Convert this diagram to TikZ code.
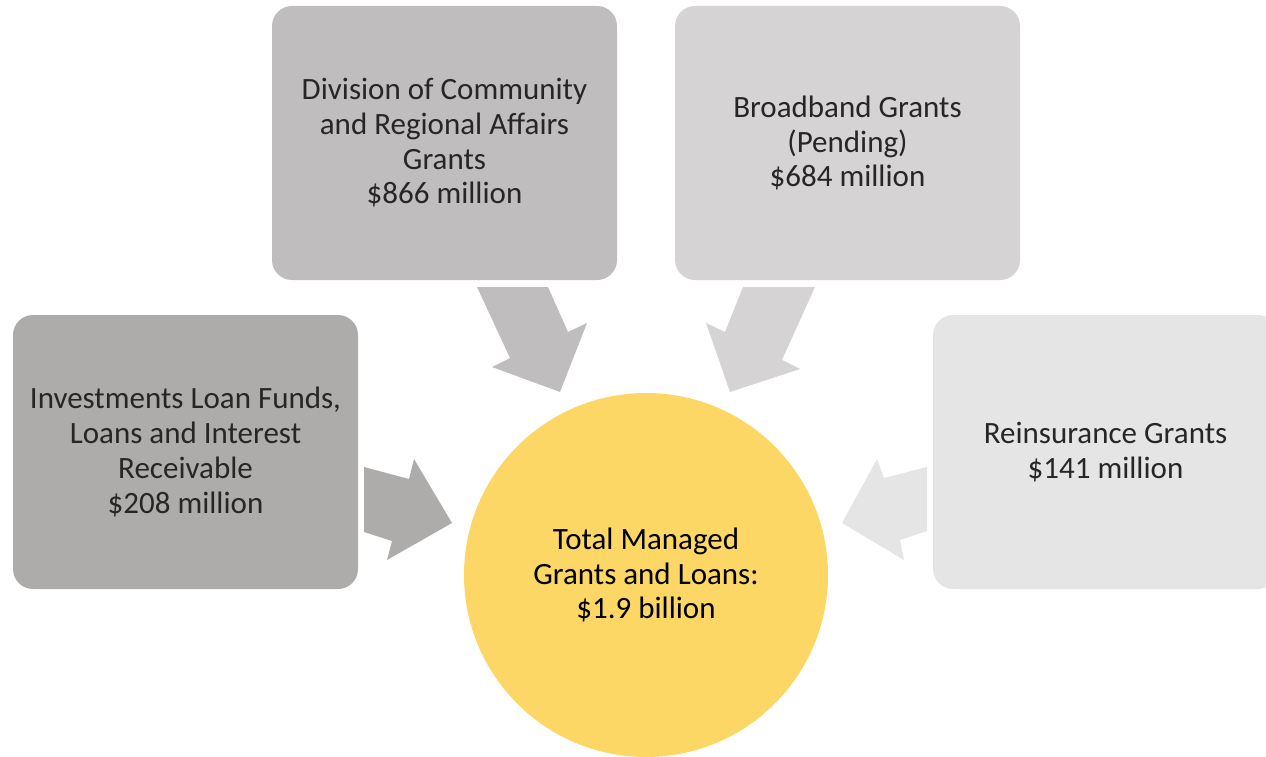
\documentclass[tikz,border=0pt]{standalone}
\usepackage{fontspec}
\setmainfont{Carlito}
\definecolor{boxA}{HTML}{BFBDBE}
\definecolor{boxB}{HTML}{D5D3D4}
\definecolor{boxC}{HTML}{ADACAB}
\definecolor{boxD}{HTML}{E5E5E5}
\definecolor{gold}{HTML}{FCD766}
\definecolor{txt}{HTML}{262626}
\begin{document}
\begin{tikzpicture}[x=1pt,y=-1pt,
  card/.style={rounded corners=20pt, minimum width=345pt, minimum height=274pt, inner sep=0pt, draw=none},
  lbl/.style={align=center, text=txt, font=\fontsize{31}{34.7}\selectfont},
  hub/.style={circle, minimum size=364pt, inner sep=0pt, fill=gold}]
\useasboundingbox (0,0) rectangle (1266,757);
\clip (0,0) rectangle (1266,757);
% boxes
\node[card, fill=boxA] (dcra) at (444.5,143) {};
\node[card, fill=boxB] (bb) at (847.5,143) {};
\node[card, fill=boxC] (inv) at (185.5,452) {};
\node[card, fill=boxD] (re) at (1105.5,452) {};
\node[lbl] at (dcra.center) {Division of Community\\and Regional Affairs\\Grants\\\$866 million};
\node[lbl] at (bb.center) {Broadband Grants\\(Pending)\\\$684 million};
\node[lbl] at (inv.center) {Investments Loan Funds,\\Loans and Interest\\Receivable\\\$208 million};
\node[lbl] at (re.center) {Reinsurance Grants\\\$141 million};
% hub
\node[hub] (tot) at (646,575) {};
\node[lbl, text=black] at (tot.center) {Total Managed\\Grants and Loans:\\\$1.9 billion};
% block arrows
\fill[boxA] (477,287) -- (548,287) -- (568,332) -- (587,323) -- (560,392) -- (492,367) -- (510,358) -- cycle;
\fill[boxB] (743,287) -- (815,287) -- (782,360) -- (800,369) -- (730,392) -- (706,323) -- (725,332) -- cycle;
\fill[boxC] (364,467) -- (409,479) -- (414,459) -- (452,523) -- (387,560) -- (392,541) -- (364,532) -- cycle;
\fill[boxD] (927,467) -- (884,478) -- (877,459) -- (842,523) -- (904,560) -- (900,540) -- (927,531) -- cycle;
\end{tikzpicture}
\end{document}
